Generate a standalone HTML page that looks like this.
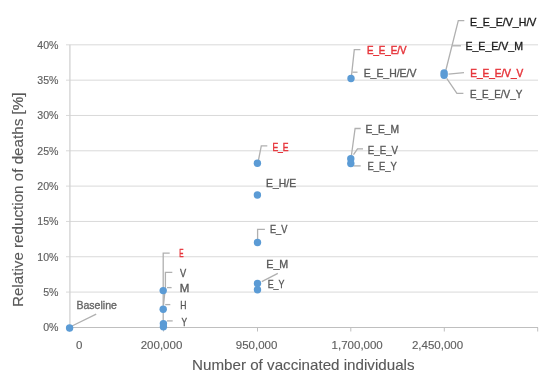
<!DOCTYPE html>
<html><head><meta charset="utf-8"><style>
html,body{margin:0;padding:0;background:#fff;}
body{width:550px;height:377px;overflow:hidden;}
svg{display:block;font-family:"Liberation Sans", sans-serif;filter:blur(0.35px);}
</style></head><body>
<svg width="550" height="377" viewBox="0 0 550 377">
<rect width="550" height="377" fill="#fff"/>
<line x1="66.00" y1="292.08" x2="538.00" y2="292.08" stroke="#d9d9d9" stroke-width="1"/>
<line x1="66.00" y1="256.76" x2="538.00" y2="256.76" stroke="#d9d9d9" stroke-width="1"/>
<line x1="66.00" y1="221.44" x2="538.00" y2="221.44" stroke="#d9d9d9" stroke-width="1"/>
<line x1="66.00" y1="186.12" x2="538.00" y2="186.12" stroke="#d9d9d9" stroke-width="1"/>
<line x1="66.00" y1="150.80" x2="538.00" y2="150.80" stroke="#d9d9d9" stroke-width="1"/>
<line x1="66.00" y1="115.48" x2="538.00" y2="115.48" stroke="#d9d9d9" stroke-width="1"/>
<line x1="66.00" y1="80.16" x2="538.00" y2="80.16" stroke="#d9d9d9" stroke-width="1"/>
<line x1="66.00" y1="44.84" x2="538.00" y2="44.84" stroke="#d9d9d9" stroke-width="1"/>
<line x1="69.90" y1="44.84" x2="69.90" y2="327.40" stroke="#d2d2d2" stroke-width="1.3"/>
<line x1="66.00" y1="327.50" x2="538.00" y2="327.50" stroke="#bfbfbf" stroke-width="1"/>
<line x1="69.50" y1="327.50" x2="69.50" y2="331.50" stroke="#bfbfbf" stroke-width="1"/>
<line x1="163.50" y1="327.50" x2="163.50" y2="331.50" stroke="#bfbfbf" stroke-width="1"/>
<line x1="257.50" y1="327.50" x2="257.50" y2="331.50" stroke="#bfbfbf" stroke-width="1"/>
<line x1="350.80" y1="327.50" x2="350.80" y2="331.50" stroke="#bfbfbf" stroke-width="1"/>
<line x1="444.30" y1="327.50" x2="444.30" y2="331.50" stroke="#bfbfbf" stroke-width="1"/>
<line x1="537.70" y1="327.50" x2="537.70" y2="331.50" stroke="#bfbfbf" stroke-width="1"/>
<text x="58.50" y="331.30" font-size="10.6" fill="#606060" stroke="#606060" stroke-width="0.15" text-anchor="end">0%</text>
<text x="58.50" y="295.98" font-size="10.6" fill="#606060" stroke="#606060" stroke-width="0.15" text-anchor="end">5%</text>
<text x="58.50" y="260.66" font-size="10.6" fill="#606060" stroke="#606060" stroke-width="0.15" text-anchor="end">10%</text>
<text x="58.50" y="225.34" font-size="10.6" fill="#606060" stroke="#606060" stroke-width="0.15" text-anchor="end">15%</text>
<text x="58.50" y="190.02" font-size="10.6" fill="#606060" stroke="#606060" stroke-width="0.15" text-anchor="end">20%</text>
<text x="58.50" y="154.70" font-size="10.6" fill="#606060" stroke="#606060" stroke-width="0.15" text-anchor="end">25%</text>
<text x="58.50" y="119.38" font-size="10.6" fill="#606060" stroke="#606060" stroke-width="0.15" text-anchor="end">30%</text>
<text x="58.50" y="84.06" font-size="10.6" fill="#606060" stroke="#606060" stroke-width="0.15" text-anchor="end">35%</text>
<text x="58.50" y="48.74" font-size="10.6" fill="#606060" stroke="#606060" stroke-width="0.15" text-anchor="end">40%</text>
<text x="79.20" y="349.00" font-size="11.5" fill="#606060" stroke="#606060" stroke-width="0.15" text-anchor="middle">0</text>
<text x="161.50" y="349.00" font-size="11.5" fill="#606060" stroke="#606060" stroke-width="0.15" text-anchor="middle">200,000</text>
<text x="256.60" y="349.00" font-size="11.5" fill="#606060" stroke="#606060" stroke-width="0.15" text-anchor="middle">950,000</text>
<text x="357.20" y="349.00" font-size="11.5" fill="#606060" stroke="#606060" stroke-width="0.15" text-anchor="middle">1,700,000</text>
<text x="437.50" y="349.00" font-size="11.5" fill="#606060" stroke="#606060" stroke-width="0.15" text-anchor="middle">2,450,000</text>
<text x="303.30" y="370.00" font-size="14.6" fill="#595959" stroke="#595959" stroke-width="0.12" text-anchor="middle" textLength="222.50" lengthAdjust="spacingAndGlyphs">Number of vaccinated individuals</text>
<text x="0" y="0" font-size="14.6" fill="#595959" stroke="#595959" stroke-width="0.12" text-anchor="middle" textLength="214.5" lengthAdjust="spacingAndGlyphs" transform="translate(22.5,199.8) rotate(-90)">Relative reduction of deaths [%]</text>
<line x1="71.00" y1="326.50" x2="96.20" y2="314.20" stroke="#b0b0b0" stroke-width="1.3"/>
<polyline points="169.7,253.1 163.2,253.1 163.2,323" fill="none" stroke="#b0b0b0" stroke-width="1.3"/>
<polyline points="172.3,272.3 165.4,272.3 165.4,287 163.5,305" fill="none" stroke="#b0b0b0" stroke-width="1.3"/>
<line x1="167.00" y1="287.60" x2="171.60" y2="287.60" stroke="#b0b0b0" stroke-width="1.3"/>
<line x1="165.20" y1="304.60" x2="170.30" y2="304.60" stroke="#b0b0b0" stroke-width="1.3"/>
<line x1="167.00" y1="320.90" x2="172.70" y2="320.90" stroke="#b0b0b0" stroke-width="1.3"/>
<polyline points="258.5,160 261.3,145.8 267.3,145.8" fill="none" stroke="#b0b0b0" stroke-width="1.3"/>
<polyline points="257.6,240 257.6,229.3 264.9,229.3" fill="none" stroke="#b0b0b0" stroke-width="1.3"/>
<line x1="261.80" y1="281.60" x2="277.80" y2="273.30" stroke="#b0b0b0" stroke-width="1.3"/>
<polyline points="360.4,49.6 354.3,49.6 351.4,76.6" fill="none" stroke="#b0b0b0" stroke-width="1.3"/>
<line x1="352.40" y1="72.20" x2="357.50" y2="72.20" stroke="#b0b0b0" stroke-width="1.3"/>
<polyline points="360.7,128.5 355.1,128.5 351.4,155.5" fill="none" stroke="#b0b0b0" stroke-width="1.3"/>
<polyline points="363,148.9 357.5,148.9 353.5,154.7" fill="none" stroke="#b0b0b0" stroke-width="1.3"/>
<line x1="353.50" y1="165.90" x2="360.70" y2="165.90" stroke="#b0b0b0" stroke-width="1.3"/>
<polyline points="464.3,20.7 458.3,20.7 445.9,70" fill="none" stroke="#b0b0b0" stroke-width="1.3"/>
<line x1="452.20" y1="45.80" x2="460.90" y2="45.80" stroke="#b0b0b0" stroke-width="1.3"/>
<line x1="448.50" y1="74.10" x2="464.00" y2="72.70" stroke="#b0b0b0" stroke-width="1.3"/>
<polyline points="446.7,78.3 456.9,93.3 463.4,93.3" fill="none" stroke="#b0b0b0" stroke-width="1.3"/>
<circle cx="69.60" cy="328.00" r="3.7" fill="#5b9bd5"/>
<circle cx="163.20" cy="290.60" r="3.7" fill="#5b9bd5"/>
<circle cx="163.20" cy="309.20" r="3.7" fill="#5b9bd5"/>
<circle cx="163.40" cy="323.60" r="3.7" fill="#5b9bd5"/>
<circle cx="163.40" cy="326.70" r="3.7" fill="#5b9bd5"/>
<circle cx="257.40" cy="163.30" r="3.7" fill="#5b9bd5"/>
<circle cx="257.40" cy="195.00" r="3.7" fill="#5b9bd5"/>
<circle cx="257.50" cy="242.50" r="3.7" fill="#5b9bd5"/>
<circle cx="257.50" cy="283.50" r="3.7" fill="#5b9bd5"/>
<circle cx="257.50" cy="289.70" r="3.7" fill="#5b9bd5"/>
<circle cx="351.00" cy="78.50" r="3.7" fill="#5b9bd5"/>
<circle cx="350.80" cy="158.80" r="3.7" fill="#5b9bd5"/>
<circle cx="350.80" cy="163.50" r="3.7" fill="#5b9bd5"/>
<circle cx="444.10" cy="72.90" r="3.7" fill="#5b9bd5"/>
<circle cx="444.10" cy="75.20" r="3.7" fill="#5b9bd5"/>
<text x="76.41" y="309.16" font-size="11.5" fill="#666666" stroke="#666666" stroke-width="0.35" text-anchor="start" textLength="40.55" lengthAdjust="spacingAndGlyphs">Baseline</text>
<text x="179.31" y="257.16" font-size="11.5" fill="#e6343a" stroke="#e6343a" stroke-width="0.5" text-anchor="start" textLength="4.31" lengthAdjust="spacingAndGlyphs">E</text>
<text x="179.88" y="277.16" font-size="11.5" fill="#585858" stroke="#585858" stroke-width="0.35" text-anchor="start" textLength="6.19" lengthAdjust="spacingAndGlyphs">V</text>
<text x="179.66" y="292.26" font-size="11.5" fill="#585858" stroke="#585858" stroke-width="0.35" text-anchor="start" textLength="9.59" lengthAdjust="spacingAndGlyphs">M</text>
<text x="180.15" y="309.16" font-size="11.5" fill="#585858" stroke="#585858" stroke-width="0.35" text-anchor="start" textLength="6.21" lengthAdjust="spacingAndGlyphs">H</text>
<text x="181.54" y="325.66" font-size="11.5" fill="#585858" stroke="#585858" stroke-width="0.35" text-anchor="start" textLength="5.56" lengthAdjust="spacingAndGlyphs">Y</text>
<text x="272.39" y="150.56" font-size="11.5" fill="#e6343a" stroke="#e6343a" stroke-width="0.5" text-anchor="start" textLength="16.22" lengthAdjust="spacingAndGlyphs">E_E</text>
<text x="266.05" y="186.76" font-size="11.5" fill="#585858" stroke="#585858" stroke-width="0.35" text-anchor="start" textLength="30.05" lengthAdjust="spacingAndGlyphs">E_H/E</text>
<text x="269.94" y="233.46" font-size="11.5" fill="#585858" stroke="#585858" stroke-width="0.35" text-anchor="start" textLength="17.37" lengthAdjust="spacingAndGlyphs">E_V</text>
<text x="266.24" y="267.96" font-size="11.5" fill="#585858" stroke="#585858" stroke-width="0.35" text-anchor="start" textLength="22.04" lengthAdjust="spacingAndGlyphs">E_M</text>
<text x="267.68" y="287.66" font-size="11.5" fill="#585858" stroke="#585858" stroke-width="0.35" text-anchor="start" textLength="16.79" lengthAdjust="spacingAndGlyphs">E_Y</text>
<text x="366.91" y="53.96" font-size="11.5" fill="#e6343a" stroke="#e6343a" stroke-width="0.5" text-anchor="start" textLength="39.62" lengthAdjust="spacingAndGlyphs">E_E_E/V</text>
<text x="363.67" y="76.96" font-size="11.5" fill="#585858" stroke="#585858" stroke-width="0.35" text-anchor="start" textLength="52.69" lengthAdjust="spacingAndGlyphs">E_E_H/E/V</text>
<text x="365.40" y="132.96" font-size="11.5" fill="#585858" stroke="#585858" stroke-width="0.35" text-anchor="start" textLength="33.73" lengthAdjust="spacingAndGlyphs">E_E_M</text>
<text x="367.84" y="153.86" font-size="11.5" fill="#585858" stroke="#585858" stroke-width="0.35" text-anchor="start" textLength="30.19" lengthAdjust="spacingAndGlyphs">E_E_V</text>
<text x="367.38" y="170.26" font-size="11.5" fill="#585858" stroke="#585858" stroke-width="0.35" text-anchor="start" textLength="29.36" lengthAdjust="spacingAndGlyphs">E_E_Y</text>
<text x="469.90" y="25.76" font-size="11.5" fill="#1a1a1a" stroke="#1a1a1a" stroke-width="0.35" text-anchor="start" textLength="66.49" lengthAdjust="spacingAndGlyphs">E_E_E/V_H/V</text>
<text x="465.38" y="49.96" font-size="11.5" fill="#1a1a1a" stroke="#1a1a1a" stroke-width="0.35" text-anchor="start" textLength="57.65" lengthAdjust="spacingAndGlyphs">E_E_E/V_M</text>
<text x="470.23" y="77.26" font-size="11.5" fill="#e6343a" stroke="#e6343a" stroke-width="0.5" text-anchor="start" textLength="53.05" lengthAdjust="spacingAndGlyphs">E_E_E/V_V</text>
<text x="469.97" y="98.36" font-size="11.5" fill="#585858" stroke="#585858" stroke-width="0.35" text-anchor="start" textLength="52.29" lengthAdjust="spacingAndGlyphs">E_E_E/V_Y</text>
</svg>
</body></html>
